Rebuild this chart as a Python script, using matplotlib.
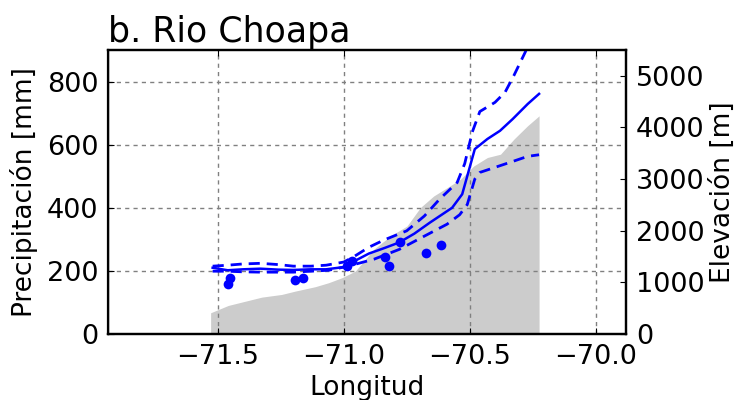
import matplotlib
matplotlib.use('Agg')
import matplotlib.pyplot as plt
import numpy as np

# Terrain profile (right axis, m)
topo_lon = [-71.528, -71.458, -71.325, -71.246, -71.193, -71.113, -71.060, -71.007,
            -70.954, -70.881, -70.815, -70.749, -70.696, -70.643, -70.589, -70.537,
            -70.484, -70.430, -70.378, -70.325, -70.271, -70.225]
topo_elev = [411, 553, 714, 766, 830, 916, 993, 1090,
             1218, 1639, 1897, 2091, 2448, 2673, 2836, 2997,
             3255, 3418, 3482, 3773, 4031, 4225]

# Modelled precipitation (mean) and spread (upper / lower)
mean_lon = [-71.52, -71.46, -71.40, -71.33, -71.26, -71.20, -71.13, -71.07, -71.00, -70.96,
            -70.90, -70.84, -70.78, -70.72, -70.66, -70.60, -70.57, -70.53, -70.48, -70.43,
            -70.38, -70.33, -70.27, -70.225]
mean_pp = [210, 202, 205, 207, 204, 203, 205, 205, 212, 230,
           255, 272, 290, 318, 352, 384, 400, 443, 586, 618,
           644, 681, 729, 761]

upper_lon = [-71.52, -71.46, -71.40, -71.33, -71.26, -71.20, -71.13, -71.07, -71.00, -70.96,
             -70.90, -70.84, -70.75, -70.68, -70.62, -70.55, -70.52, -70.49, -70.46, -70.40,
             -70.36, -70.325, -70.28, -70.225]
upper_pp = [215, 218, 222, 224, 220, 215, 215, 218, 228, 245,
            275, 298, 327, 374, 427, 480, 540, 640, 705, 734,
            766, 819, 893, 1000]

lower_lon = [-71.52, -71.46, -71.40, -71.33, -71.26, -71.20, -71.13, -71.06, -71.00, -70.95,
             -70.88, -70.78, -70.69, -70.59, -70.54, -70.51, -70.48, -70.46, -70.40, -70.34,
             -70.27, -70.225]
lower_pp = [199, 199, 197, 196, 196, 196, 199, 202, 212, 222,
            237, 268, 306, 348, 378, 410, 491, 512, 528, 544,
            563, 568]

# Observed stations
obs_lon = [-71.452, -71.458, -71.193, -71.162, -70.987, -70.967, -70.835, -70.822,
           -70.775, -70.672, -70.616]
obs_pp = [178, 159, 171, 178, 217, 231, 245, 217, 292, 256, 282]

xticks = [-71.5, -71.0, -70.5, -70.0]

fs = 19

fig = plt.figure(figsize=(7.4, 4), dpi=100)
ax1 = fig.add_axes([0.146, 0.165, 0.700, 0.710])
ax2 = ax1.twinx()

# terrain behind, lines on top
ax2.fill_between(topo_lon, 0, topo_elev, color='#cccccc', linewidth=0)
ax2.set_ylim(0, 5500)
ax2.set_yticks([0, 1000, 2000, 3000, 4000, 5000])
ax2.set_ylabel('Elevación [m]', fontsize=fs, labelpad=4)

ax1.set_zorder(ax2.get_zorder() + 1)
ax1.patch.set_visible(False)

ax1.plot(mean_lon, mean_pp, color='b', lw=1.8)
ax1.plot(upper_lon, upper_pp, color='b', lw=2.0, dashes=(4, 2.5))
ax1.plot(lower_lon, lower_pp, color='b', lw=2.0, dashes=(4, 2.5))
ax1.plot(obs_lon, obs_pp, 'o', color='b', markersize=7, markeredgewidth=0)

ax1.set_xlim(-71.935, -69.88)
ax1.set_ylim(0, 900)
ax1.set_xticks(xticks)
ax1.set_yticks([0, 200, 400, 600, 800])
ax1.grid(True, color='0.5', linestyle=(0, (3, 3)), lw=1)

ax1.set_xlabel('Longitud', fontsize=fs, labelpad=4)
ax1.set_ylabel('Precipitación [mm]', fontsize=fs, labelpad=6)
ax1.set_title('b. Rio Choapa', loc='left', fontsize=25, pad=6)

ax1.tick_params(axis='both', direction='in', labelsize=fs + 0.5, length=4, pad=7, top=True)
ax2.tick_params(axis='y', direction='in', labelsize=fs + 0.5, length=4, pad=7)

for ax in (ax1, ax2):
    for s in ax.spines.values():
        s.set_linewidth(1.6)
ax1.spines['left'].set_linewidth(1.0)

fig.savefig('out.png', dpi=100)
